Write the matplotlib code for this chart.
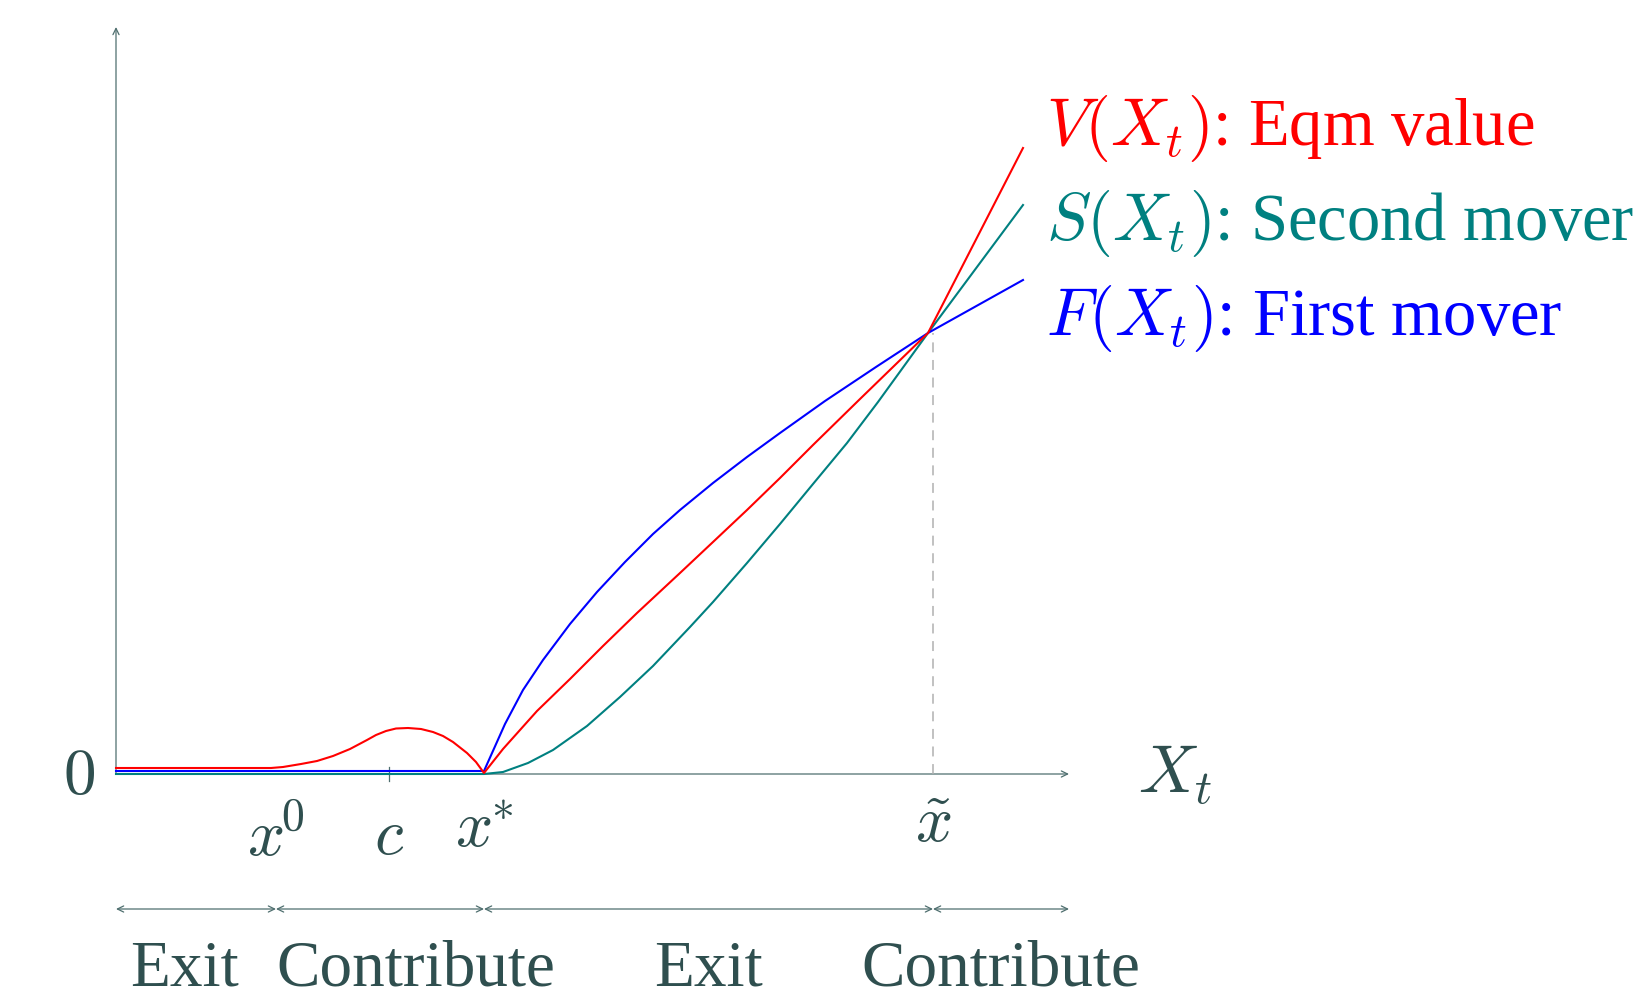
import matplotlib.pyplot as plt

plt.rcParams["font.family"] = ["Liberation Serif", "DejaVu Serif"]
plt.rcParams["mathtext.fontset"] = "cm"

# curve values (x in abstract state units)
red_x = [0.0, 1.55, 1.67, 1.85, 2.01, 2.17, 2.34, 2.51, 2.60, 2.70, 2.80, 2.92, 3.05, 3.17, 3.27, 3.37,
         3.51, 3.60, 3.68, 3.87, 4.21, 4.54, 4.87, 5.21, 5.64, 5.97, 6.31, 6.64, 6.97, 7.44, 8.12, 9.07]
red_y = [0.06, 0.06, 0.07, 0.10, 0.13, 0.18, 0.25, 0.34, 0.39, 0.43, 0.455, 0.46, 0.45, 0.42, 0.38, 0.32,
         0.21, 0.12, 0.01, 0.25, 0.63, 0.95, 1.28, 1.61, 2.01, 2.32, 2.64, 2.96, 3.29, 3.75, 4.41, 6.26]

teal_x = [0.0, 3.68, 3.87, 4.12, 4.37, 4.71, 5.04, 5.37, 5.74, 5.97, 6.31, 6.64, 6.97, 7.31, 7.62, 8.12, 9.07]
teal_y = [0.0, 0.0, 0.02, 0.11, 0.24, 0.48, 0.77, 1.08, 1.47, 1.72, 2.11, 2.50, 2.90, 3.31, 3.72, 4.41, 5.69]

blue_x = [0.0, 3.68, 3.89, 4.07, 4.27, 4.54, 4.81, 5.09, 5.37, 5.64, 5.97, 6.31, 6.64, 7.09, 7.60, 8.12, 9.07]
blue_y = [0.03, 0.03, 0.50, 0.84, 1.14, 1.50, 1.82, 2.12, 2.40, 2.64, 2.91, 3.17, 3.41, 3.73, 4.07, 4.41, 4.94]

x_zero, x_c, x_star, x_tilde = 1.60, 2.73, 3.68, 8.17
cross_y = 4.41
x_end, y_end = 9.53, 7.47

tick_pos = [x_zero, x_c, x_star, x_tilde]
tick_labels = [r"$x^{\!0}$", r"$c$", r"$x^{\!\!*}$", r"$\tilde{x}$"]
region_bounds = [0.0, x_zero, x_star, x_tilde, x_end]
region_labels = ["Exit", "Contribute", "Exit", "Contribute"]

curve_labels = [r"$V(X_t)$: Eqm value", r"$S(X_t)$: Second mover", r"$F(X_t)$: First mover"]
curve_colors = ["#ff0000", "#008080", "#0000ff"]

axis_col = "#4f6f6f"
text_col = "#2f4f4f"
fs = 47

fig = plt.figure(figsize=(16.52, 9.97), dpi=100)
ax = fig.add_axes([0, 0, 1, 1])
ax.set_xlim(-1.16, 15.36)
ax.set_ylim(-2.23, 7.74)
ax.axis("off")

arrow = dict(arrowstyle="->,head_length=0.45,head_width=0.22", color=axis_col, lw=0.9, shrinkA=0, shrinkB=0)
ax.annotate("", xy=(x_end, 0), xytext=(0, 0), arrowprops=arrow, zorder=1)
ax.annotate("", xy=(0, y_end), xytext=(0, 0), arrowprops=arrow, zorder=1)

ax.plot([x_c, x_c], [-0.07, 0.07], color=axis_col, lw=0.9, zorder=1)
ax.plot([x_tilde, x_tilde], [0, cross_y], color="#b0b0b0", lw=1.1, dashes=(6.5, 5), zorder=1)

ax.plot(teal_x, teal_y, color=curve_colors[1], lw=1.5, zorder=3)
ax.plot(blue_x, blue_y, color=curve_colors[2], lw=1.5, zorder=4)
ax.plot(red_x, red_y, color=curve_colors[0], lw=1.5, zorder=5)

ax.text(-0.37, -0.04, r"$0$", fontsize=fs, color=text_col, ha="center", va="center")
ax.text(10.22, -0.18, r"$X_t$", fontsize=fs + 2, color=text_col, ha="left", va="baseline")
# labels sit at slightly different heights in the original
for pos, lab, base in zip(tick_pos, tick_labels, [-0.82, -0.80, -0.73, -0.68]):
    ax.text(pos, base, lab, fontsize=fs, color=text_col, ha="center", va="baseline")

for i, (lab, col) in enumerate(zip(curve_labels, curve_colors)):
    ax.text(9.30, 6.29 - 0.95 * i, lab, fontsize=fs + 1, color=col, ha="left", va="baseline")

# region strip under the axis
seg = dict(arrowstyle="<->,head_length=0.45,head_width=0.22", color=axis_col, lw=0.9, shrinkA=0, shrinkB=0)
for a, b in zip(region_bounds[:-1], region_bounds[1:]):
    ax.annotate("", xy=(b, -1.35), xytext=(a, -1.35), arrowprops=seg)

ax.text(0.68, -2.11, region_labels[0], fontsize=fs, color=text_col, ha="center", va="baseline")
ax.text(x_zero, -2.11, region_labels[1], fontsize=fs, color=text_col, ha="left", va="baseline")
for i in (2, 3):
    mid = (region_bounds[i] + region_bounds[i + 1]) / 2
    ax.text(mid, -2.11, region_labels[i], fontsize=fs, color=text_col, ha="center", va="baseline")

fig.savefig("out.png", dpi=100)
